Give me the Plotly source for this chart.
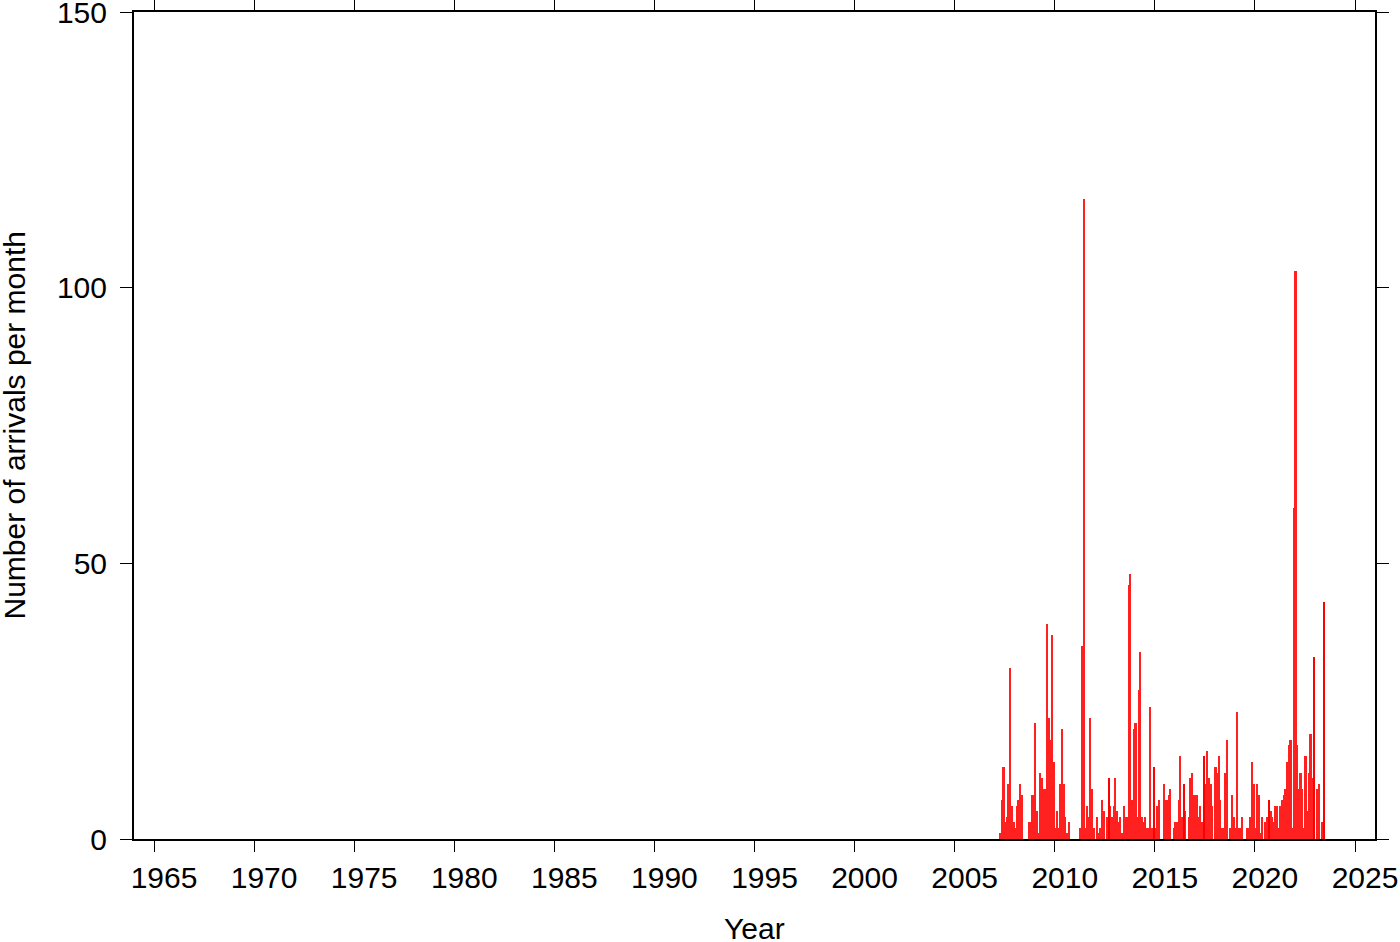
import plotly.graph_objects as go

# Monthly arrival counts, January 2007 .. June 2023 (one row per year)
counts_by_year = {
    2007: [0, 0, 0, 1, 7, 13, 3, 4, 10, 31, 6, 3],
    2008: [2, 6, 7, 10, 8, 0, 0, 0, 3, 3, 8, 8],
    2009: [21, 5, 1, 12, 11, 9, 9, 39, 22, 18, 37, 14],
    2010: [2, 5, 2, 10, 20, 10, 4, 1, 3, 0, 0, 0],
    2011: [0, 0, 0, 2, 35, 116, 2, 6, 4, 22, 9, 2],
    2012: [0, 4, 1, 2, 7, 5, 0, 4, 0, 6, 4, 6],
    2013: [11, 5, 3, 4, 1, 6, 4, 4, 46, 48, 7, 20],
    2014: [21, 4, 27, 34, 4, 3, 4, 2, 2, 24, 2, 0],
    2015: [2, 6, 7, 0, 0, 10, 7, 7, 8, 9, 0, 2],
    2016: [3, 3, 7, 15, 4, 0, 5, 0, 4, 11, 12, 8],
    2017: [8, 8, 4, 6, 3, 10, 10, 16, 11, 10, 6, 0],
    2018: [13, 12, 15, 7, 2, 2, 12, 18, 0, 2, 8, 4],
    2019: [2, 23, 2, 2, 4, 0, 0, 2, 2, 4, 14, 10],
    2020: [2, 10, 8, 1, 4, 0, 3, 4, 5, 5, 4, 3],
    2021: [6, 6, 2, 6, 7, 8, 9, 14, 17, 18, 2, 60],
    2022: [103, 17, 9, 12, 9, 2, 15, 5, 12, 19, 11, 11],
    2023: [0, 9, 10, 0, 3, 0],
}

# Narrow (partial) bins drawn as thin spikes
spike_months = ["2012-09", "2014-12", "2016-06", "2017-06", "2020-09", "2022-12", "2023-06"]
spike_values = [11, 13, 10, 15, 7, 33, 43]

x_tick_years = list(range(1965, 2030, 5))
y_ticks = [0, 50, 100, 150]
x_title = "Year"
y_title = "Number of arrivals per month"

months, values = [], []
for yr, vals in counts_by_year.items():
    for i, v in enumerate(vals):
        months.append(f"{yr}-{i + 1:02d}")
        values.append(v)

MONTH_MS = 30.44 * 86400000

fig = go.Figure()
fig.add_trace(go.Bar(
    x=months, y=values,
    xperiod="M1", xperiodalignment="middle",
    width=MONTH_MS,
    marker=dict(color="#ff2020", line=dict(width=0)),
    showlegend=False,
))
fig.add_trace(go.Bar(
    x=spike_months, y=spike_values,
    xperiod="M1", xperiodalignment="middle",
    width=MONTH_MS * 0.35,
    marker=dict(color="#ff0000", line=dict(width=0)),
    showlegend=False,
))

font_family = "Liberation Sans, Arial, Helvetica, sans-serif"

fig.update_layout(
    width=1400, height=942,
    margin=dict(l=134, r=25, t=12, b=103),
    paper_bgcolor="white", plot_bgcolor="white",
    barmode="overlay", bargap=0,
    font=dict(family=font_family, size=30, color="black"),
    xaxis=dict(
        type="date",
        range=["1964-01-01", "2026-01-01"],
        tickmode="array",
        tickvals=[f"{y}-01-01" for y in x_tick_years],
        ticktext=[str(y) for y in x_tick_years],
        ticks="outside", ticklen=11, tickwidth=1.3, tickcolor="black",
        showline=True, linewidth=2, linecolor="black", mirror="ticks",
        showgrid=False, zeroline=False,
        tickfont=dict(size=30),
        ticklabeloverflow="allow",
        ticklabelshift=10,
        automargin=False,
    ),
    yaxis=dict(
        range=[0, 150],
        tickmode="array", tickvals=y_ticks, ticktext=[str(v) for v in y_ticks],
        ticks="outside", ticklen=12, tickwidth=1.3, tickcolor="black",
        showline=True, linewidth=2, linecolor="black", mirror="ticks",
        showgrid=False, zeroline=False,
        tickfont=dict(size=30),
        ticklabeloverflow="allow",
        ticklabelstandoff=7,
        automargin=False,
    ),
    annotations=[
        dict(text=x_title, xref="paper", yref="paper", x=0.5, y=0,
             xanchor="center", yanchor="middle", yshift=-89, showarrow=False,
             font=dict(size=30)),
        dict(text=y_title, xref="paper", yref="paper", x=0, y=0.5,
             xanchor="center", yanchor="middle", xshift=-120, textangle=-90,
             showarrow=False, font=dict(size=30)),
    ],
)

fig.write_html("out.html", config={"displayModeBar": False},
               post_script="document.body.style.margin='0';")
